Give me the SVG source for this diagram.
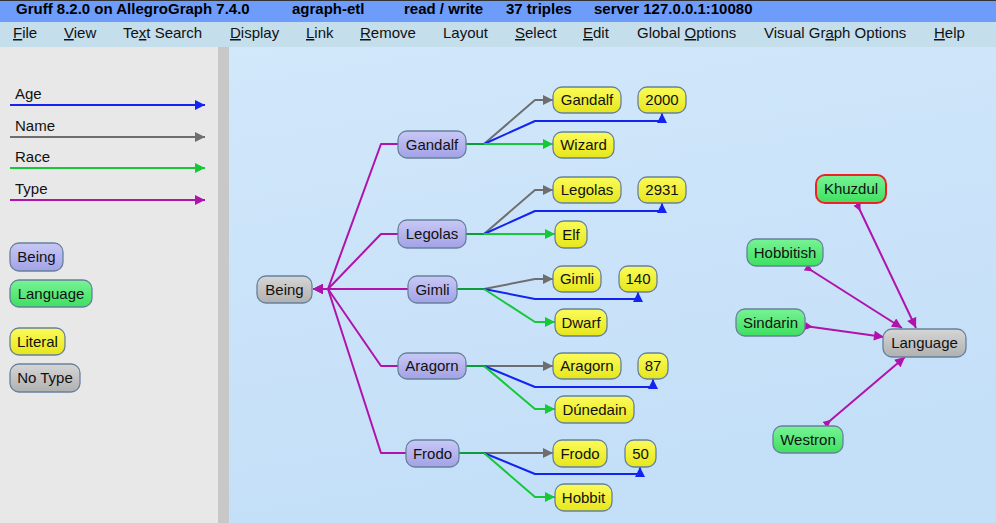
<svg xmlns="http://www.w3.org/2000/svg" width="996" height="523" viewBox="0 0 996 523">
<defs>
<style>
text{font-family:"Liberation Sans",Arial,sans-serif;font-size:15px;fill:#111}
.title{font-weight:bold;fill:#000}
.menu{fill:#111}
.nl{text-anchor:middle}
.node rect{stroke:#66819c;stroke-width:1.3}
.e{fill:none;stroke-width:2;stroke-linejoin:round}
.age{stroke:#1424f0}
.name{stroke:#6e6e6e}
.race{stroke:#14c838}
.type{stroke:#b012ac}
.stub{stroke:#0c9c38}
</style>
<linearGradient id="gBg" x1="0" y1="0" x2="0.3" y2="1"><stop offset="0" stop-color="#d4e9fb"/><stop offset="1" stop-color="#c4dff8"/></linearGradient>
<linearGradient id="gPur" x1="0" y1="0" x2="0" y2="1"><stop offset="0" stop-color="#c8c8f6"/><stop offset="1" stop-color="#a2a2e6"/></linearGradient>
<linearGradient id="gYel" x1="0" y1="0" x2="0" y2="1"><stop offset="0" stop-color="#fbfb5a"/><stop offset="1" stop-color="#e6e61c"/></linearGradient>
<linearGradient id="gGrn" x1="0" y1="0" x2="0" y2="1"><stop offset="0" stop-color="#78f396"/><stop offset="1" stop-color="#3ee060"/></linearGradient>
<linearGradient id="gGry" x1="0" y1="0" x2="0" y2="1"><stop offset="0" stop-color="#d6d6d6"/><stop offset="1" stop-color="#b0b0b0"/></linearGradient>
<marker id="aAge" viewBox="0 0 10 10" refX="10" refY="5" markerWidth="11" markerHeight="10" markerUnits="userSpaceOnUse" orient="auto"><path d="M0,0 L10,5 L0,10 z" fill="#1424f0"/></marker>
<marker id="aName" viewBox="0 0 10 10" refX="10" refY="5" markerWidth="11" markerHeight="10" markerUnits="userSpaceOnUse" orient="auto"><path d="M0,0 L10,5 L0,10 z" fill="#6e6e6e"/></marker>
<marker id="aRace" viewBox="0 0 10 10" refX="10" refY="5" markerWidth="11" markerHeight="10" markerUnits="userSpaceOnUse" orient="auto"><path d="M0,0 L10,5 L0,10 z" fill="#14c838"/></marker>
<marker id="aType" viewBox="0 0 10 10" refX="10" refY="5" markerWidth="11" markerHeight="10" markerUnits="userSpaceOnUse" orient="auto"><path d="M0,0 L10,5 L0,10 z" fill="#b012ac"/></marker>
<marker id="tType" viewBox="0 0 10 10" refX="0" refY="5" markerWidth="8" markerHeight="9" markerUnits="userSpaceOnUse" orient="auto"><path d="M0,0 L10,5 L0,10 z" fill="#b012ac"/></marker>
</defs>

<!-- window chrome -->
<g id="chrome">
<rect x="0" y="0" width="996" height="523" fill="url(#gBg)"/>
<rect x="0" y="0" width="996" height="22" fill="#6d9cfb"/>
<rect x="0" y="0" width="996" height="1" fill="#333"/>
<rect x="0" y="22" width="996" height="25" fill="#c5deec"/>
<rect x="0" y="47" width="218" height="476" fill="#e8e8e8"/>
<rect x="218" y="47" width="11" height="476" fill="#c8c8c8"/>
<text class="title" x="16" y="14">Gruff 8.2.0 on AllegroGraph 7.4.0</text>
<text class="title" x="292" y="14">agraph-etl</text>
<text class="title" x="404" y="14">read / write</text>
<text class="title" x="506" y="14">37 triples</text>
<text class="title" x="594" y="14">server 127.0.0.1:10080</text>
<text class="menu" x="13" y="38"><tspan text-decoration="underline">F</tspan>ile</text>
<text class="menu" x="64" y="38"><tspan text-decoration="underline">V</tspan>iew</text>
<text class="menu" x="123" y="38">Te<tspan text-decoration="underline">x</tspan>t Search</text>
<text class="menu" x="230" y="38"><tspan text-decoration="underline">D</tspan>isplay</text>
<text class="menu" x="306" y="38"><tspan text-decoration="underline">L</tspan>ink</text>
<text class="menu" x="360" y="38"><tspan text-decoration="underline">R</tspan>emove</text>
<text class="menu" x="443" y="38">Layout</text>
<text class="menu" x="515" y="38"><tspan text-decoration="underline">S</tspan>elect</text>
<text class="menu" x="583" y="38"><tspan text-decoration="underline">E</tspan>dit</text>
<text class="menu" x="637" y="38">Global <tspan text-decoration="underline">O</tspan>ptions</text>
<text class="menu" x="764" y="38">Visual Gr<tspan text-decoration="underline">a</tspan>ph Options</text>
<text class="menu" x="934" y="38"><tspan text-decoration="underline">H</tspan>elp</text>
</g>

<!-- legend -->
<g id="legend">
<text x="15" y="99">Age</text>
<path class="e age" d="M10,105 H205" marker-end="url(#aAge)"/>
<text x="15" y="131">Name</text>
<path class="e name" d="M10,137 H205" marker-end="url(#aName)"/>
<text x="15" y="162">Race</text>
<path class="e race" d="M10,168 H205" marker-end="url(#aRace)"/>
<text x="15" y="194">Type</text>
<path class="e type" d="M10,200 H205" marker-end="url(#aType)"/>
<g class="node" id="leg-being"><rect x="10" y="243" width="53" height="28" rx="9" fill="url(#gPur)"/><text class="nl" x="36.5" y="262">Being</text></g>
<g class="node" id="leg-language"><rect x="10" y="280" width="82" height="27" rx="9" fill="url(#gGrn)"/><text class="nl" x="51" y="299">Language</text></g>
<g class="node" id="leg-literal"><rect x="10" y="328" width="55" height="27" rx="9" fill="url(#gYel)"/><text class="nl" x="37.5" y="347">Literal</text></g>
<g class="node" id="leg-notype"><rect x="10" y="364" width="70" height="28" rx="9" fill="url(#gGry)"/><text class="nl" x="45" y="383">No Type</text></g>
</g>

<!-- connectors -->
<g id="connectors">
<!-- type edges to Being -->
<path class="e type" d="M398,144 H381 L328,289 H313" marker-end="url(#aType)"/>
<path class="e type" d="M398,234 H381 L328,289 H313" marker-end="url(#aType)"/>
<path class="e type" d="M408,289 H313" marker-end="url(#aType)"/>
<path class="e type" d="M398,366 H381 L328,289 H313" marker-end="url(#aType)"/>
<path class="e type" d="M406,453 H381 L328,289 H313" marker-end="url(#aType)"/>

<!-- Gandalf -->
<path class="e name" d="M484,144 L535,100 H553" marker-end="url(#aName)"/>
<path class="e age" d="M484,144 L535,121 H662 V113" marker-end="url(#aAge)"/>
<path class="e race" d="M484,144 H553" marker-end="url(#aRace)"/>
<path class="e stub" d="M466,144 H484"/>
<!-- Legolas -->
<path class="e name" d="M484,234 L535,190 H553" marker-end="url(#aName)"/>
<path class="e age" d="M484,234 L535,211 H662 V203" marker-end="url(#aAge)"/>
<path class="e race" d="M484,234 H555" marker-end="url(#aRace)"/>
<path class="e stub" d="M466,234 H484"/>
<!-- Gimli -->
<path class="e name" d="M484,289 L535,279 H553" marker-end="url(#aName)"/>
<path class="e age" d="M484,289 L535,299 H638 V292" marker-end="url(#aAge)"/>
<path class="e race" d="M484,289 L535,322 H555" marker-end="url(#aRace)"/>
<path class="e stub" d="M457,289 H484"/>
<!-- Aragorn -->
<path class="e name" d="M484,366 H553" marker-end="url(#aName)"/>
<path class="e age" d="M484,366 L535,387 H653 V379" marker-end="url(#aAge)"/>
<path class="e race" d="M484,366 L535,409 H555" marker-end="url(#aRace)"/>
<path class="e stub" d="M466,366 H484"/>
<!-- Frodo -->
<path class="e name" d="M484,453 H553" marker-end="url(#aName)"/>
<path class="e age" d="M484,453 L535,474 H640 V467" marker-end="url(#aAge)"/>
<path class="e race" d="M484,453 L535,497 H555" marker-end="url(#aRace)"/>
<path class="e stub" d="M459,453 H484"/>

<!-- languages -->
<path class="e type" d="M857,204 L916,328" marker-start="url(#tType)" marker-end="url(#aType)"/>
<path class="e type" d="M806,267 L902,328" marker-start="url(#tType)" marker-end="url(#aType)"/>
<path class="e type" d="M805,326 L884,337" marker-start="url(#tType)" marker-end="url(#aType)"/>
<path class="e type" d="M825,425 L905,357" marker-start="url(#tType)" marker-end="url(#aType)"/>
</g>

<!-- nodes -->
<g class="node" id="n-being"><rect x="257" y="276" width="55" height="27" rx="9" fill="url(#gGry)"/><text class="nl" x="284.5" y="295">Being</text></g>
<g class="node" id="n-gandalf"><rect x="398" y="131" width="68" height="27" rx="9" fill="url(#gPur)"/><text class="nl" x="432" y="150">Gandalf</text></g>
<g class="node" id="n-legolas"><rect x="398" y="220" width="68" height="28" rx="9" fill="url(#gPur)"/><text class="nl" x="432" y="239">Legolas</text></g>
<g class="node" id="n-gimli"><rect x="408" y="276" width="49" height="27" rx="9" fill="url(#gPur)"/><text class="nl" x="432.5" y="295">Gimli</text></g>
<g class="node" id="n-aragorn"><rect x="398" y="353" width="68" height="26" rx="9" fill="url(#gPur)"/><text class="nl" x="432" y="371">Aragorn</text></g>
<g class="node" id="n-frodo"><rect x="406" y="440" width="53" height="27" rx="9" fill="url(#gPur)"/><text class="nl" x="432.5" y="459">Frodo</text></g>

<g class="node" id="l-gandalf"><rect x="553" y="87" width="68" height="26" rx="9" fill="url(#gYel)"/><text class="nl" x="587" y="105">Gandalf</text></g>
<g class="node" id="l-2000"><rect x="638" y="87" width="48" height="26" rx="9" fill="url(#gYel)"/><text class="nl" x="662" y="105">2000</text></g>
<g class="node" id="l-wizard"><rect x="553" y="132" width="61" height="26" rx="9" fill="url(#gYel)"/><text class="nl" x="583.5" y="150">Wizard</text></g>
<g class="node" id="l-legolas"><rect x="553" y="177" width="68" height="26" rx="9" fill="url(#gYel)"/><text class="nl" x="587" y="195">Legolas</text></g>
<g class="node" id="l-2931"><rect x="638" y="177" width="48" height="26" rx="9" fill="url(#gYel)"/><text class="nl" x="662" y="195">2931</text></g>
<g class="node" id="l-elf"><rect x="555" y="221" width="32" height="27" rx="9" fill="url(#gYel)"/><text class="nl" x="571" y="240">Elf</text></g>
<g class="node" id="l-gimli"><rect x="553" y="266" width="48" height="26" rx="9" fill="url(#gYel)"/><text class="nl" x="577" y="284">Gimli</text></g>
<g class="node" id="l-140"><rect x="619" y="266" width="38" height="26" rx="9" fill="url(#gYel)"/><text class="nl" x="638" y="284">140</text></g>
<g class="node" id="l-dwarf"><rect x="555" y="309" width="52" height="27" rx="9" fill="url(#gYel)"/><text class="nl" x="581" y="328">Dwarf</text></g>
<g class="node" id="l-aragorn"><rect x="553" y="353" width="68" height="26" rx="9" fill="url(#gYel)"/><text class="nl" x="587" y="371">Aragorn</text></g>
<g class="node" id="l-87"><rect x="638" y="353" width="30" height="26" rx="9" fill="url(#gYel)"/><text class="nl" x="653" y="371">87</text></g>
<g class="node" id="l-dunedain"><rect x="555" y="396" width="79" height="27" rx="9" fill="url(#gYel)"/><text class="nl" x="594.5" y="415">Dúnedain</text></g>
<g class="node" id="l-frodo"><rect x="553" y="440" width="54" height="27" rx="9" fill="url(#gYel)"/><text class="nl" x="580" y="459">Frodo</text></g>
<g class="node" id="l-50"><rect x="625" y="440" width="31" height="27" rx="9" fill="url(#gYel)"/><text class="nl" x="640.5" y="459">50</text></g>
<g class="node" id="l-hobbit"><rect x="555" y="484" width="57" height="27" rx="9" fill="url(#gYel)"/><text class="nl" x="583.5" y="503">Hobbit</text></g>

<g class="node" id="n-khuzdul"><rect x="816" y="175" width="70" height="28" rx="9" fill="url(#gGrn)" style="stroke:#ee2222;stroke-width:2"/><text class="nl" x="851" y="194">Khuzdul</text></g>
<g class="node" id="n-hobbitish"><rect x="747" y="239" width="76" height="27" rx="9" fill="url(#gGrn)"/><text class="nl" x="785" y="258">Hobbitish</text></g>
<g class="node" id="n-sindarin"><rect x="736" y="309" width="69" height="27" rx="9" fill="url(#gGrn)"/><text class="nl" x="770.5" y="328">Sindarin</text></g>
<g class="node" id="n-language"><rect x="883" y="329" width="83" height="28" rx="9" fill="url(#gGry)"/><text class="nl" x="924.5" y="348">Language</text></g>
<g class="node" id="n-westron"><rect x="773" y="426" width="70" height="27" rx="9" fill="url(#gGrn)"/><text class="nl" x="808" y="445">Westron</text></g>
</svg>
